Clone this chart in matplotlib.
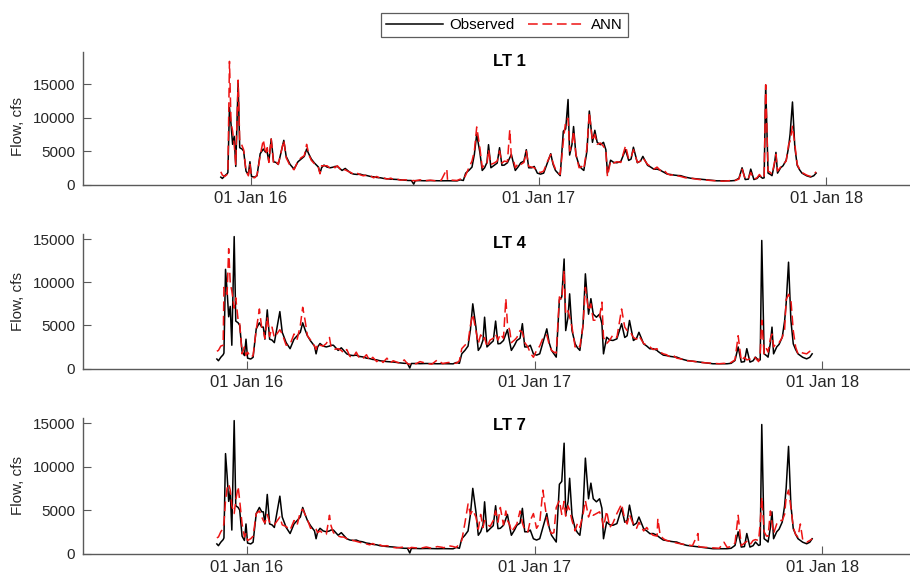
import datetime
import numpy as np
import matplotlib
matplotlib.use("Agg")
import matplotlib.pyplot as plt
import matplotlib.dates as mdates

plt.rcParams['font.family'] = ['Liberation Sans', 'DejaVu Sans']
plt.rcParams['lines.scale_dashes'] = False

# ---------------- data (days counted from 01 Jan 2016) ----------------
days_from_2016 = [
    -38, -36, -33, -30, -29, -27, -25, -23, -21, -19,
    -16, -14, -11, -9, -6, -3, -1, 1, 5, 8,
    12, 16, 19, 21, 23, 26, 29, 32, 35, 42,
    45, 50, 55, 60, 64, 68, 71, 74, 77, 81,
    86, 88, 90, 93, 97, 101, 105, 107, 110, 116,
    120, 123, 127, 131, 135, 139, 143, 147, 152, 156,
    160, 165, 169, 173, 178, 182, 186, 190, 195, 200,
    204, 207, 209, 215, 220, 228, 235, 242, 249, 250,
    256, 262, 266, 270, 273, 277, 281, 284, 287, 291,
    294, 297, 300, 302, 305, 309, 313, 316, 319, 322,
    326, 329, 331, 334, 336, 340, 343, 347, 350, 353,
    357, 360, 364, 368, 372, 376, 381, 384, 387, 390,
    393, 397, 400, 403, 405, 408, 410, 413, 417, 420,
    423, 427, 430, 434, 437, 440, 444, 448, 451, 453,
    457, 461, 465, 470, 476, 480, 483, 486, 491, 495,
    498, 504, 508, 512, 516, 521, 522, 525, 529, 533,
    538, 542, 546, 552, 559, 566, 573, 574, 576, 584,
    592, 600, 606, 610, 615, 620, 624, 628, 632, 635,
    639, 643, 646, 650, 652, 654, 657, 660, 662, 665,
    667, 669, 673, 676, 680, 683, 685, 688, 691, 694,
    697, 700, 703, 706, 711, 715, 718,
]

observed = [
    1100, 900, 1300, 1600, 1800, 11500, 9000, 6000, 7200, 2700,
    15300, 5500, 5300, 5000, 2000, 1500, 3400, 1200, 1100, 1300,
    4600, 5300, 4800, 4800, 3400, 6800, 3400, 3300, 3000, 6600,
    4200, 3000, 2300, 3400, 3800, 4200, 5300, 4500, 3800, 3200,
    2600, 1700, 2500, 2900, 2600, 2500, 2600, 2700, 2700, 2100,
    2400, 2100, 1700, 1550, 1500, 1550, 1400, 1350, 1200, 1150,
    1050, 1000, 900, 850, 800, 780, 750, 700, 650, 600,
    600, 50, 580, 580, 560, 580, 560, 550, 560, 560,
    550, 540, 700, 600, 1700, 2100, 2600, 4500, 7500, 4800,
    2100, 2500, 3300, 5950, 2500, 2860, 3200, 5500, 2860, 2900,
    3250, 4000, 4500, 3000, 2100, 2700, 3250, 3500, 5200, 2500,
    2500, 2700, 1700, 1550, 1700, 3000, 4600, 3000, 2100, 1700,
    1320, 7970, 8300, 12700, 4400, 6000, 8660, 4400, 2860, 2400,
    2100, 5000, 10980, 6300, 8100, 6300, 5950, 6300, 5200, 1700,
    3630, 3300, 3250, 3440, 5200, 3600, 3800, 5570, 3250, 3500,
    4200, 2860, 2600, 2280, 2300, 2100, 2000, 1800, 1550, 1500,
    1400, 1350, 1320, 1100, 930, 850, 760, 750, 740, 650,
    550, 550, 540, 550, 600, 930, 2500, 740, 800, 2300,
    740, 900, 1320, 930, 1000, 14850, 1700, 1500, 1320, 3000,
    4800, 1700, 2500, 2800, 3630, 5500, 7570, 12330, 5570, 2860,
    2200, 1700, 1500, 1300, 1120, 1300, 1700,
]

ann_lt1 = [
    1900, 1400, 1200, 1500, 1700, 18400, 9200, 8000, 6000, 3000,
    15600, 6700, 5800, 5200, 2000, 1300, 3000, 1100, 1000, 1400,
    4300, 6700, 4500, 5500, 3300, 6800, 3200, 3500, 3000, 6600,
    4000, 2800, 2200, 3500, 4000, 4300, 6000, 4400, 3600, 3100,
    2500, 1600, 2800, 2800, 2800, 2400, 2700, 2500, 2800, 2000,
    2200, 2000, 1800, 1500, 1700, 1450, 1300, 1400, 1300, 1000,
    1200, 900, 1000, 800, 950, 700, 800, 650, 700, 650,
    550, 600, 550, 700, 550, 650, 550, 650, 2300, 600,
    650, 600, 800, 750, 1400, 2500, 3500, 5000, 8600, 5500,
    2500, 3000, 3000, 5200, 3000, 3200, 3500, 5000, 3200, 3500,
    3400, 8200, 4000, 3500, 2500, 3200, 3000, 3300, 5000, 2700,
    2600, 2500, 2000, 1800, 2000, 3200, 4500, 3200, 2300, 1800,
    1500, 6500, 9500, 9900, 5000, 6000, 8000, 4500, 2500, 2700,
    2300, 5500, 10800, 6500, 7500, 6000, 6200, 5700, 5000, 1200,
    3500, 3200, 3400, 3300, 5800, 3800, 4000, 5200, 3300, 3500,
    4000, 3000, 2700, 2300, 2600, 2000, 1900, 2100, 1600, 1400,
    1500, 1300, 1200, 1000, 950, 800, 700, 720, 700, 600,
    550, 500, 550, 600, 600, 800, 2300, 800, 900, 1800,
    800, 1000, 1500, 900, 1100, 14900, 2000, 1800, 1500, 3200,
    4500, 2000, 2600, 3000, 3500, 5900, 6500, 8700, 6000, 3000,
    2300, 1800, 1600, 1400, 1200, 1500, 1900,
]

ann_lt4 = [
    2000, 2100, 2600, 2700, 9400, 9000, 8600, 13900, 9900, 9000,
    7000, 8200, 5600, 5200, 1700, 2500, 1500, 1900, 1300, 1500,
    4500, 6900, 4700, 4500, 3500, 6000, 3700, 4800, 3600, 4500,
    4000, 2700, 2800, 4000, 3400, 5000, 7100, 5600, 3800, 3300,
    2600, 2200, 2900, 2700, 2600, 2900, 3600, 2500, 2200, 2300,
    2100, 1800, 2200, 1400, 1300, 1900, 1200, 1100, 1600, 900,
    1300, 800, 1100, 700, 1200, 650, 900, 750, 600, 1000,
    550, 500, 650, 550, 800, 600, 500, 1000, 550, 600,
    700, 650, 600, 900, 2300, 2700, 3000, 5000, 6300, 4400,
    2900, 3900, 3300, 3600, 2500, 3300, 3500, 4000, 3300, 4000,
    3500, 8100, 5200, 4400, 3000, 3300, 3600, 4400, 4200, 3000,
    2500, 1800, 1300, 2100, 2600, 3500, 3900, 2800, 2100, 1900,
    1800, 8300, 8000, 11400, 6300, 6700, 6000, 4800, 2500, 2800,
    2500, 5000, 9400, 6700, 7500, 5600, 5600, 6000, 7700, 3600,
    2900, 3300, 3900, 3600, 6900, 4800, 4400, 4400, 3600, 3400,
    3800, 2900, 2700, 2500, 2200, 2300, 2000, 1900, 1700, 1600,
    1300, 1500, 1200, 1100, 900, 850, 750, 720, 700, 650,
    600, 550, 600, 550, 700, 1000, 3800, 900, 1300, 1000,
    1100, 1400, 1200, 800, 1800, 5600, 1700, 2300, 1900, 3500,
    4000, 2500, 3000, 3000, 3600, 4500, 8000, 8600, 8000, 4400,
    2500, 1700, 1900, 1800, 1700, 2000, 1700,
]

ann_lt7 = [
    1800, 1900, 2500, 2900, 3500, 6100, 7500, 8000, 7300, 5500,
    4600, 6100, 7700, 6100, 3400, 1900, 2300, 1500, 1700, 2000,
    4600, 4900, 4200, 3800, 3500, 4500, 3600, 3500, 3300, 4200,
    3300, 3100, 2700, 3800, 3300, 4800, 5100, 4500, 3900, 2900,
    3000, 2800, 2400, 2600, 2300, 2200, 4400, 3200, 2400, 2000,
    1900, 1900, 1700, 1600, 1500, 1400, 1300, 1200, 1100, 1000,
    1150, 900, 1000, 850, 900, 800, 700, 650, 700, 750,
    650, 600, 700, 650, 600, 750, 600, 800, 700, 650,
    900, 800, 700, 1100, 1500, 3500, 5700, 4500, 5000, 4200,
    2800, 4500, 3000, 3800, 3400, 3100, 3800, 4900, 3600, 5300,
    3300, 4900, 3800, 3300, 2500, 3000, 3400, 4900, 3500, 2700,
    2500, 3800, 4600, 2900, 3500, 7300, 4000, 2800, 2300, 2400,
    5300, 6100, 4500, 6000, 4300, 5500, 5000, 3800, 2600, 3500,
    3000, 4500, 6100, 4200, 5000, 4400, 4600, 4800, 4000, 3000,
    4900, 3000, 3500, 4600, 5700, 3900, 3400, 4500, 3300, 2900,
    3600, 2600, 3000, 2400, 2100, 2000, 4000, 2100, 1700, 1500,
    1400, 1300, 1200, 1100, 1000, 900, 2300, 800, 750, 700,
    650, 600, 1300, 700, 800, 1200, 4400, 900, 1200, 1400,
    1000, 1500, 1600, 1500, 3500, 6500, 2500, 2000, 2000, 4900,
    3500, 2300, 3400, 3800, 3800, 4500, 6500, 7300, 5300, 3000,
    2200, 1900, 3400, 1600, 1300, 1500, 1700,
]

panel_titles = ['LT 1', 'LT 4', 'LT 7']
panel_ann = [ann_lt1, ann_lt4, ann_lt7]
panel_ylim_top = [19800, 15600, 15600]
ytick_values = [0, 5000, 10000, 15000]
xtick_dates = [datetime.date(2016, 1, 1), datetime.date(2017, 1, 1), datetime.date(2018, 1, 1)]
series_labels = ['Observed', 'ANN']

for arr in (observed, ann_lt1, ann_lt4, ann_lt7):
    assert len(arr) == len(days_from_2016), len(arr)

base = np.datetime64('2016-01-01')
dates = base + np.array(days_from_2016, dtype='timedelta64[D]')

# ---------------- layout ----------------
W, H = 910, 575
fig = plt.figure(figsize=(W / 100, H / 100), dpi=100)

# (bottom px, top px) for each panel; axes run from x=83 px to x=935 px
panel_px = [(184.5, 52.0), (368.5, 234.0), (553.5, 418.0)]
xlims_days = [(-213, 869), (-208, 874), (-208, 874)]
title_y = [0.925, 0.93, 0.948]
ylabel_y = [0.44, 0.5, 0.5]

spine_col = '#5a5a5a'
text_col = '#262626'
red = (0.93, 0.08, 0.08)

handles = None
for i in range(3):
    bot, top = panel_px[i]
    ax = fig.add_axes([83 / W, (H - bot) / H, (935 - 83) / W, (bot - top) / H])
    l1, = ax.plot(dates, observed, color='black', lw=1.1, label=series_labels[0], zorder=2)
    l2, = ax.plot(dates, panel_ann[i], color=red, lw=1.1, dashes=(7.0, 3.4),
                  label=series_labels[1], zorder=3)
    if handles is None:
        handles = [l1, l2]
    lo, hi = xlims_days[i]
    ax.set_xlim(base + np.timedelta64(lo, 'D'), base + np.timedelta64(hi, 'D'))
    ax.set_ylim(0, panel_ylim_top[i])
    ax.set_yticks(ytick_values)
    ax.set_yticklabels([str(v) for v in ytick_values])
    ax.set_xticks(xtick_dates)
    ax.xaxis.set_major_formatter(mdates.DateFormatter('%d %b %y'))
    ax.minorticks_off()
    for s in ('top', 'right'):
        ax.spines[s].set_visible(False)
    for s in ('left', 'bottom'):
        ax.spines[s].set_color(spine_col)
        ax.spines[s].set_linewidth(1.0)
    ax.tick_params(direction='in', length=5.5, width=0.8, color=spine_col,
                   labelcolor=text_col)
    ax.tick_params(axis='y', pad=5.5, labelsize=11)
    ax.tick_params(axis='x', pad=4.5, labelsize=12)
    ax.set_ylabel('Flow, cfs', fontsize=11, color=text_col)
    ax.yaxis.set_label_coords((25 - 83) / (935 - 83), ylabel_y[i])
    ax.text(0.5, title_y[i], panel_titles[i], transform=ax.transAxes, ha='center',
            va='center', fontsize=12, fontweight='bold', color='black')

leg = fig.legend(handles, series_labels, loc='center', ncol=2,
                 bbox_to_anchor=(504 / W, 1 - 25 / H), fontsize=10.8,
                 frameon=True, fancybox=False, handlelength=3.8, handletextpad=0.4,
                 columnspacing=0.9, borderpad=0.35, borderaxespad=0)
leg.get_frame().set_edgecolor('#333333')
leg.get_frame().set_linewidth(0.9)

fig.savefig('out.png', dpi=100)
